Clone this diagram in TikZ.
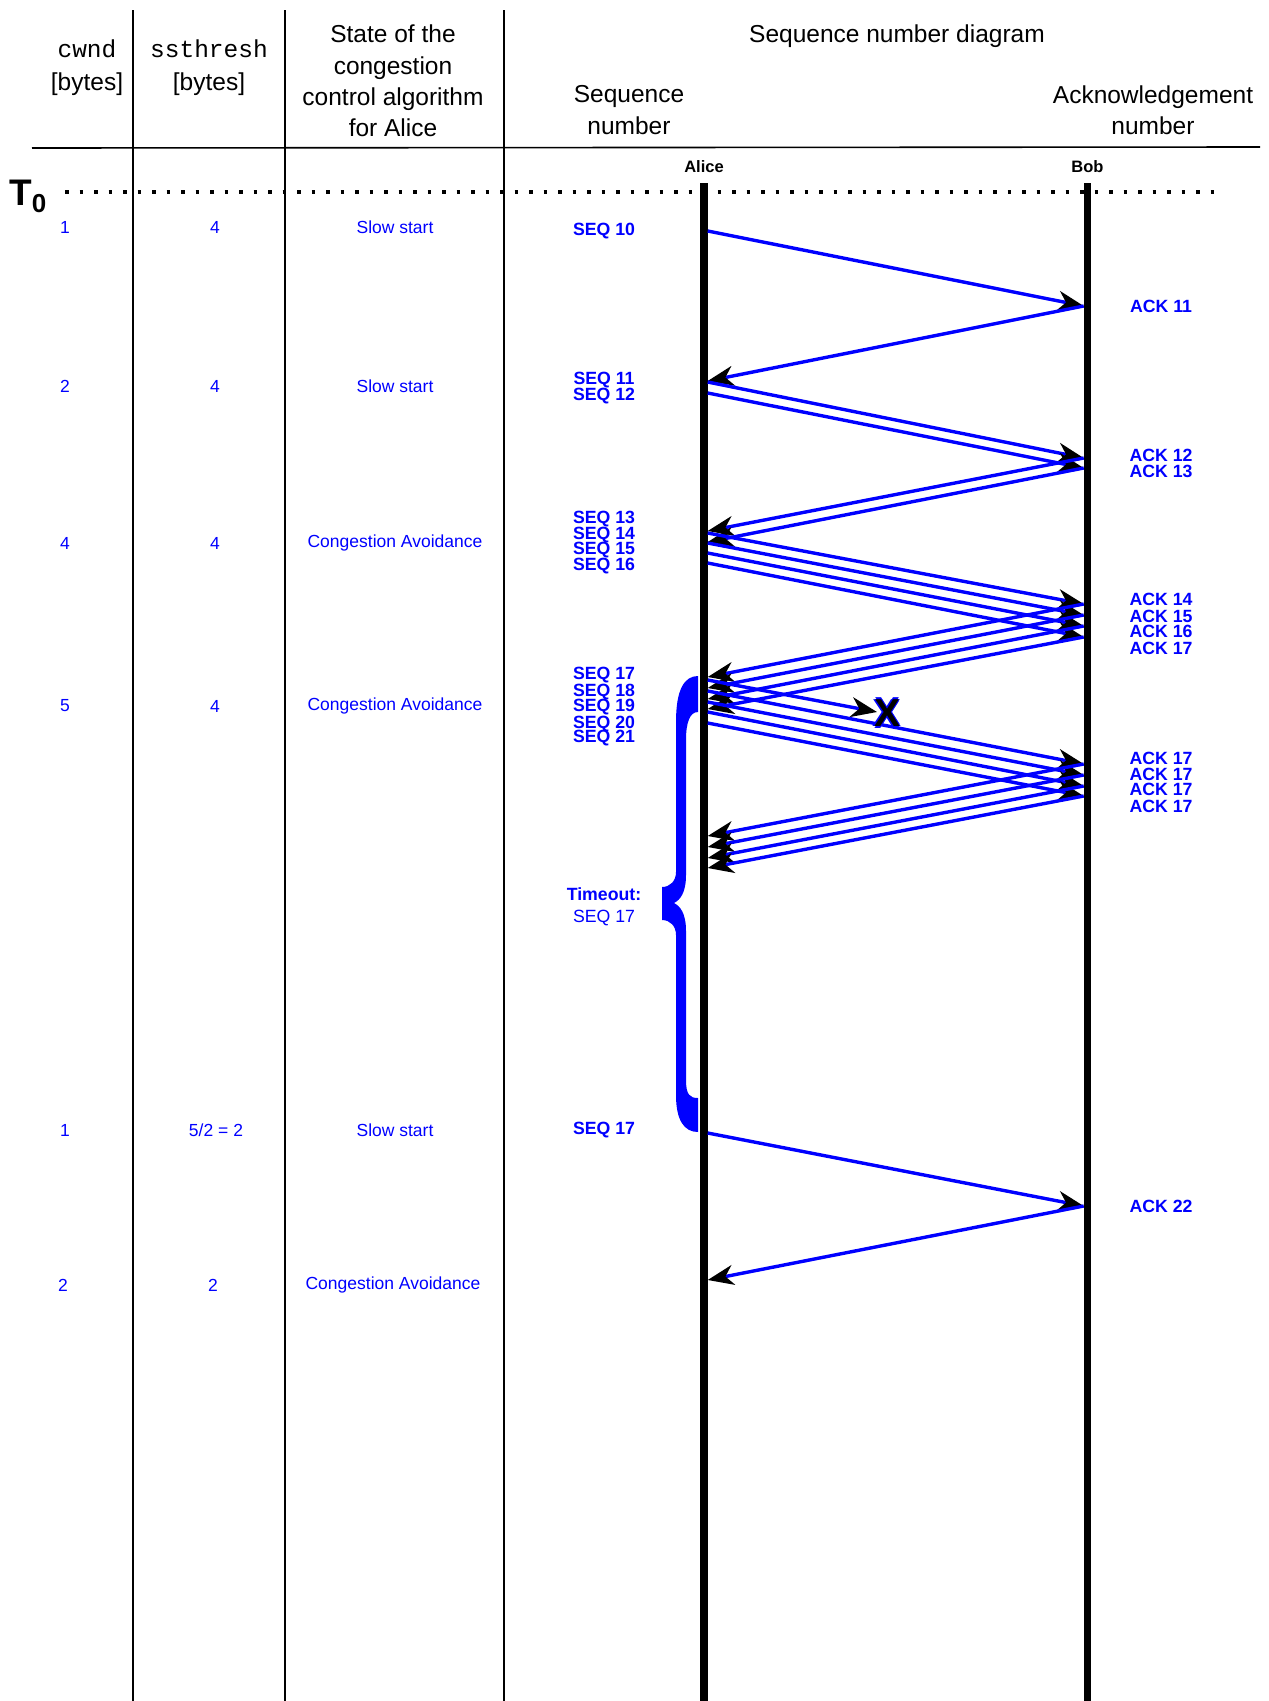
\documentclass[tikz,border=0pt]{standalone}
\usepackage{fontspec}
\setmainfont{Liberation Sans}
\newfontfamily\monofont{Liberation Mono}
\usetikzlibrary{arrows.meta}
\tikzset{
  colline/.style={line width=1.6pt, black},
  life/.style={line width=7.5pt, black},
  msg/.style={line width=3.4pt, blue, -{Stealth[color=black,length=26pt,width=20pt,inset=8pt]}},
  hdr/.style={font=\fontsize{24.5}{31.3}\selectfont, align=center, inner sep=0pt},
  rowlbl/.style={font=\fontsize{17.5}{20}\selectfont, text=blue, inner sep=0pt},
  seqlbl/.style={font=\fontsize{17.7}{20}\selectfont\bfseries, text=blue, inner sep=0pt},
  who/.style={font=\fontsize{16.5}{20}\selectfont\bfseries, inner sep=0pt},
}
\newcommand{\lostmark}{\leavevmode
  \rlap{\kern1.6pt\textcolor{blue}{X}}%
  \rlap{\kern-1.6pt\textcolor{blue}{X}}%
  \rlap{\raise1.6pt\hbox{\textcolor{blue}{X}}}%
  \rlap{\lower1.6pt\hbox{\textcolor{blue}{X}}}%
  \textcolor{black}{X}}
\begin{document}
\begin{tikzpicture}[x=1pt,y=-1pt]
\useasboundingbox (0,0) rectangle (1269,1701);
\fill[white] (0,0) rectangle (1269,1701);

% table lines
\draw[colline] (133,10) -- (133,1701);
\draw[colline] (285,10) -- (285,1701);
\draw[colline] (504,10) -- (504,1701);
\draw[colline] (32,148) -- (1260,147);

% headers
\node[hdr, font=\fontsize{24.5}{33}\selectfont] (hcwnd) at (87,68) {{\monofont cwnd}\\{}[bytes]};
\node[hdr, font=\fontsize{24.5}{33}\selectfont] (hssth) at (209,68) {{\monofont ssthresh}\\{}[bytes]};
\node[hdr] (hstate) at (393,81) {State of the\\congestion\\control algorithm\\for Alice};
\node[hdr] (hdiag) at (897,36) {Sequence number diagram};
\node[hdr] (hseq) at (629,110) {Sequence\\number};
\node[hdr] (hack) at (1153,110) {Acknowledgement\\number};

% T0 and dotted line
\node[anchor=base west, inner sep=0pt, font=\fontsize{37}{37}\selectfont\bfseries] (tzero) at (9,205) {T\raisebox{-7pt}{\fontsize{26}{26}\selectfont 0}};
\draw[line width=3.5pt, dash pattern=on 3.5pt off 11pt] (65,192) -- (1217,192);

% lifelines
\node[who] (alice) at (704,167) {Alice};
\node[who] (bob) at (1087.5,167) {Bob};
\draw[life] (704,183) -- (704,1701);
\draw[life] (1087.5,183) -- (1087.5,1701);

% brace
\fill[blue] (698,676) -- (698,712)
  .. controls (690,712) and (686,722) .. (686,740)
  -- (686,875)
  .. controls (686,893) and (680,900) .. (674,903)
  .. controls (680,906) and (686,913) .. (686,931)
  -- (686,1080)
  .. controls (686,1095) and (690,1098) .. (698,1098)
  -- (698,1132)
  .. controls (684,1132) and (676,1120) .. (676,1095)
  -- (676,935)
  .. controls (676,926) and (670,920) .. (662,920)
  -- (662,887)
  .. controls (670,887) and (676,881) .. (676,872)
  -- (676,722)
  .. controls (676,690) and (684,676) .. (698,676) -- cycle;

% row labels
\node[rowlbl] (c1) at (65,227) {1};
\node[rowlbl] (s1) at (215,227) {4};
\node[rowlbl] (st1) at (395,227) {Slow start};
\node[rowlbl] (c2) at (65,386) {2};
\node[rowlbl] (s2) at (215,386) {4};
\node[rowlbl] (st2) at (395,386) {Slow start};
\node[rowlbl] (c3) at (65,543) {4};
\node[rowlbl] (s3) at (215,543) {4};
\node[rowlbl] (st3) at (395,543) {Congestion Avoidance};
\node[rowlbl] (c4) at (65,706) {5};
\node[rowlbl] (s4) at (215,706) {4};
\node[rowlbl] (st4) at (395,706) {Congestion Avoidance};
\node[rowlbl] (c5) at (65,1130) {1};
\node[rowlbl] (s5) at (216,1130) {5/2 = 2};
\node[rowlbl] (st5) at (395,1130) {Slow start};
\node[rowlbl] (c6) at (63,1285) {2};
\node[rowlbl] (s6) at (213,1285) {2};
\node[rowlbl] (st6) at (393,1285) {Congestion Avoidance};

% SEQ labels
\node[seqlbl] (q10) at (604,231) {SEQ 10};
\node[seqlbl] (q11) at (604,380) {SEQ 11};
\node[seqlbl] (q12) at (604,396) {SEQ 12};
\node[seqlbl] (q13) at (604,519) {SEQ 13};
\node[seqlbl] (q14) at (604,535) {SEQ 14};
\node[seqlbl] (q15) at (604,550) {SEQ 15};
\node[seqlbl] (q16) at (604,566) {SEQ 16};
\node[seqlbl] (q17) at (604,675) {SEQ 17};
\node[seqlbl] (q18) at (604,692) {SEQ 18};
\node[seqlbl] (q19) at (604,707) {SEQ 19};
\node[seqlbl] (q20) at (604,724) {SEQ 20};
\node[seqlbl] (q21) at (604,738) {SEQ 21};
\node[seqlbl] (tout) at (604,894) {Timeout:};
\node[rowlbl, font=\fontsize{17.7}{20}\selectfont] (toutseq) at (604,918) {SEQ 17};
\node[seqlbl] (q17b) at (604,1130) {SEQ 17};

% ACK labels
\node[seqlbl] (k11) at (1161,306) {ACK 11};
\node[seqlbl] (k12) at (1161,455) {ACK 12};
\node[seqlbl] (k13) at (1161,471) {ACK 13};
\node[seqlbl] (k14) at (1161,599) {ACK 14};
\node[seqlbl] (k15) at (1161,616) {ACK 15};
\node[seqlbl] (k16) at (1161,631) {ACK 16};
\node[seqlbl] (k17) at (1161,648) {ACK 17};
\node[seqlbl] (k17a) at (1161,758) {ACK 17};
\node[seqlbl] (k17b) at (1161,774) {ACK 17};
\node[seqlbl] (k17c) at (1161,789) {ACK 17};
\node[seqlbl] (k17d) at (1161,806) {ACK 17};
\node[seqlbl] (k22) at (1161,1206) {ACK 22};

% lifeline anchor points (A = Alice edge, B = Bob edge)
\foreach \y in {231,381,382,393,531,542,533,543,553,563,677,688,699,709,680,691,702,712,723,836,847,858,868,1133,1280}
  \coordinate (A\y) at (707.7,\y);
\foreach \y in {306,458,468,604,615,626,637,764,775,786,796,1206}
  \coordinate (B\y) at (1083.7,\y);
\coordinate (lost) at (877,712);

% messages
\draw[msg] (A231) -- (B306);
\draw[msg] (B306) -- (A381);
\draw[msg] (A382) -- (B458);
\draw[msg] (A393) -- (B468);
\draw[msg] (B458) -- (A531);
\draw[msg] (B468) -- (A542);
\draw[msg] (A533) -- (B604);
\draw[msg] (A543) -- (B615);
\draw[msg] (A553) -- (B626);
\draw[msg] (A563) -- (B637);
\draw[msg] (B604) -- (A677);
\draw[msg] (B615) -- (A688);
\draw[msg] (B626) -- (A699);
\draw[msg] (B637) -- (A709);
\draw[msg] (A680) -- (lost);
\draw[msg] (A691) -- (B764);
\draw[msg] (A702) -- (B775);
\draw[msg] (A712) -- (B786);
\draw[msg] (A723) -- (B796);
\draw[msg] (B764) -- (A836);
\draw[msg] (B775) -- (A847);
\draw[msg] (B786) -- (A858);
\draw[msg] (B796) -- (A868);
\draw[msg] (A1133) -- (B1206);
\draw[msg] (B1206) -- (A1280);

\node[inner sep=0pt, font=\fontsize{39}{39}\selectfont\bfseries] (xmark) at (887,713) {\lostmark};
\end{tikzpicture}
\end{document}
